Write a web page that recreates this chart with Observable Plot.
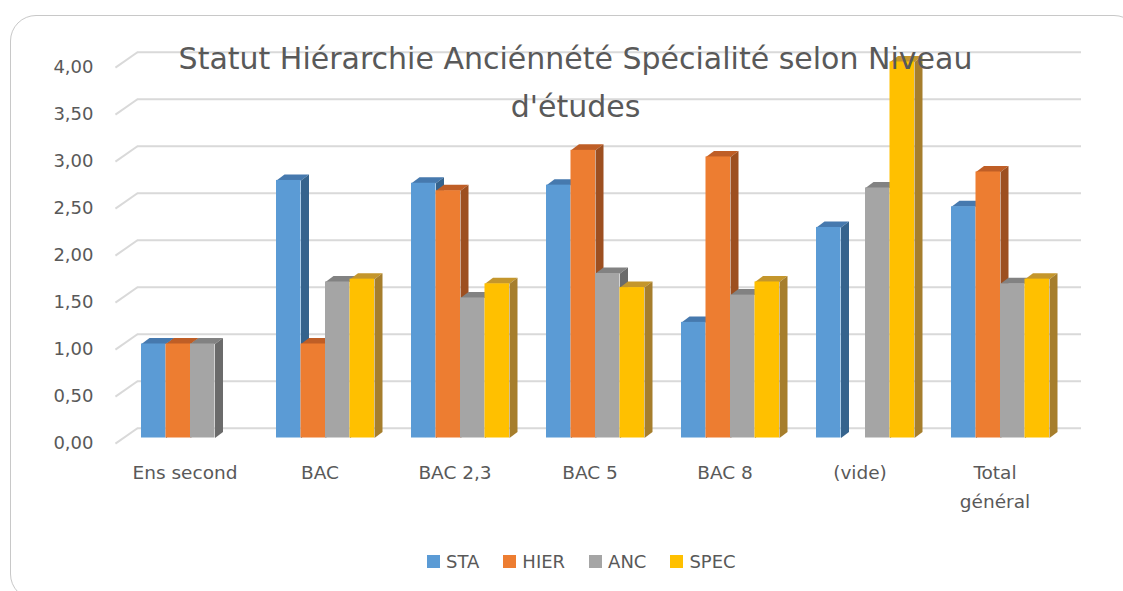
<!DOCTYPE html>
<html>
<head>
<meta charset="utf-8">
<script src="https://cdn.jsdelivr.net/npm/d3@7"></script>
<script src="https://cdn.jsdelivr.net/npm/@observablehq/plot@0.6"></script>
<style>
  html, body { margin: 0; padding: 0; background: #fff; }
  #wrap { position: relative; width: 1123px; height: 591px; overflow: hidden; font-family: "DejaVu Sans", sans-serif; }
  #border { position: absolute; left: 10px; top: 15px; width: 1130px; height: 585px; border: 1.5px solid #c8c8c8; border-radius: 26px; pointer-events: none; box-sizing: border-box; }
  #legend { position: absolute; left: 427px; top: 545px; }
  #legend .lg-swatch { margin-right: 24px; }
  #legend .lg-swatch > svg { margin-right: 6px; }
</style>
</head>
<body>
<div id="wrap"></div>
<script>
// ---- data ----
const categories = ["Ens second", "BAC", "BAC 2,3", "BAC 5", "BAC 8", "(vide)", "Total général"];
const xTickLabels = ["Ens second", "BAC", "BAC 2,3", "BAC 5", "BAC 8", "(vide)", "Total\ngénéral"];
const series = ["STA", "HIER", "ANC", "SPEC"];
const STA  = [1.00, 2.74, 2.71, 2.69, 1.23, 2.24, 2.46];
const HIER = [1.00, 1.00, 2.63, 3.06, 2.99, null, 2.83];
const ANC  = [1.00, 1.66, 1.49, 1.75, 1.52, 2.66, 1.64];
const SPEC = [null, 1.69, 1.64, 1.60, 1.66, 4.00, 1.69];
const yTicks = [0, 0.5, 1, 1.5, 2, 2.5, 3, 3.5, 4];
const title = "Statut Hiérarchie Anciénnété Spécialité selon Niveau\nd'études";

// ---- styles ----
const frontColors = ["#5B9BD5", "#ED7D31", "#A5A5A5", "#FFC000"];
const sideColors  = ["#35638D", "#9D4F20", "#6B6B6B", "#A67E2C"];
const topColors   = ["#4679AE", "#BF5E26", "#828282", "#C4962C"];
const textColor = "#595959";
const font = "DejaVu Sans, sans-serif";

// geometry in scale units (category step = 1)
const W = 945 / 7;            // px per category (for layout only)
const gapOff = 18.5 / W;      // offset of group inside its band
const barW = 24.5 / W;        // bar width
const dX = 8 / W;             // depth offset x
const dY = 6 / 94;            // depth offset y (value units)
const backY = 0.104;          // back wall shift
const frontY = -0.06;         // left floor front shift

const valuesBySeries = [STA, HIER, ANC, SPEC];
const bars = [];
valuesBySeries.forEach((vals, s) => {
  vals.forEach((v, i) => {
    if (v == null) return;
    const x1 = i + gapOff + s * barW;
    bars.push({s, i, v, x1, x2: x1 + barW, id: `${s}-${i}`});
  });
});
function facePoints(s, kind) {
  const pts = [];
  bars.filter(b => b.s === s).forEach(b => {
    if (kind === "side") {
      pts.push({id: b.id, x: b.x2, y: 0}, {id: b.id, x: b.x2, y: b.v},
               {id: b.id, x: b.x2 + dX, y: b.v + dY}, {id: b.id, x: b.x2 + dX, y: dY});
    } else {
      pts.push({id: b.id, x: b.x1, y: b.v}, {id: b.id, x: b.x1 + dX, y: b.v + dY},
               {id: b.id, x: b.x2 + dX, y: b.v + dY}, {id: b.id, x: b.x2, y: b.v});
    }
  });
  return pts;
}

const barMarks = [];
series.forEach((name, s) => {
  barMarks.push(Plot.line(facePoints(s, "top"), {x: "x", y: "y", z: "id", fill: topColors[s], stroke: "none"}));
  barMarks.push(Plot.line(facePoints(s, "side"), {x: "x", y: "y", z: "id", fill: sideColors[s], stroke: "none"}));
  barMarks.push(Plot.rect(bars.filter(b => b.s === s), {x1: "x1", x2: "x2", y1: 0, y2: "v", fill: frontColors[s]}));
});

const plot = Plot.plot({
  width: 1123,
  height: 591,
  marginLeft: 122.5,
  marginRight: 55.5,
  marginTop: 61.5,
  marginBottom: 153.5,
  style: {fontFamily: font, color: textColor, background: "transparent"},
  x: {domain: [0, 7], axis: null},
  y: {domain: [0, 4], axis: null},
  marks: [
    Plot.ruleY(yTicks, {y: d => d + backY, x1: 0.107, x2: 7.1, stroke: "#d9d9d9", strokeWidth: 2}),
    Plot.link(yTicks, {x1: -0.056, y1: d => d + frontY, x2: 0.107, y2: d => d + backY, stroke: "#d9d9d9", strokeWidth: 2}),
    ...barMarks,
    Plot.text(yTicks, {y: d => d, frameAnchor: "left", text: d => d.toFixed(2).replace(".", ","), textAnchor: "end", dx: -29.5, dy: 5.5, fontSize: 18, fill: textColor}),
    Plot.text(xTickLabels, {x: (d, i) => i + 0.5, frameAnchor: "bottom", text: d => d, lineAnchor: "top", dy: 20, dx: -5.5, fontSize: 18.5, lineHeight: 1.58, fill: textColor}),
    Plot.text([title], {frameAnchor: "top", text: d => d, lineAnchor: "top", dx: -20, dy: -27, fontSize: 30, lineHeight: 1.6, fill: textColor})
  ]
});

const wrap = document.getElementById("wrap");
wrap.appendChild(plot);

const legendDiv = document.createElement("div");
legendDiv.id = "legend";
legendDiv.appendChild(Plot.legend({
  color: {type: "ordinal", domain: series, range: frontColors},
  legend: "swatches",
  swatchSize: 13,
  className: "lg",
  style: {fontSize: "18px", fontFamily: font, color: textColor}
}));
wrap.appendChild(legendDiv);

const border = document.createElement("div");
border.id = "border";
wrap.appendChild(border);
</script>
</body>
</html>
